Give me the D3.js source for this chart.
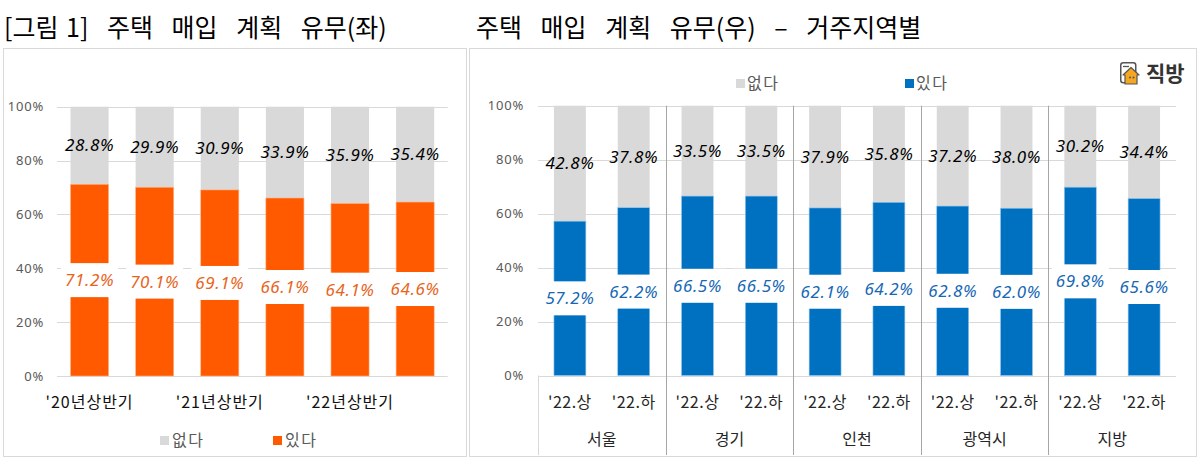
<!DOCTYPE html>
<html>
<head>
<meta charset="utf-8">
<script src="https://cdn.jsdelivr.net/npm/d3@7"></script>
<style>
  body { margin: 0; background: #fff; }
  text { font-family: "Noto Sans CJK KR", "Noto Sans", sans-serif; }
</style>
</head>
<body>
<div id="chart"></div>
<script>
// 데이터
const leftPeriods = ["'20년상반기", "'20년하반기", "'21년상반기", "'21년하반기", "'22년상반기", "'22년하반기"];
const leftNo = [28.8, 29.9, 30.9, 33.9, 35.9, 35.4];
const leftYes = [71.2, 70.1, 69.1, 66.1, 64.1, 64.6];

const regions = ["서울", "경기", "인천", "광역시", "지방"];
const halves = ["'22.상", "'22.하"];
const rightNo = [42.8, 37.8, 33.5, 33.5, 37.9, 35.8, 37.2, 38.0, 30.2, 34.4];
const rightYes = [57.2, 62.2, 66.5, 66.5, 62.1, 64.2, 62.8, 62.0, 69.8, 65.6];

const yTicks = [0, 20, 40, 60, 80, 100];
const legendNames = ["없다", "있다"];

const GRAY = "#d9d9d9", ORANGE = "#ff5a00", ORANGE_TXT = "#e8641b", BLUE = "#0070c0", BLUE_TXT = "#1668b4";

const svg = d3.select("#chart").append("svg")
  .attr("width", 1201).attr("height", 461);

// 제목
const t1 = svg.append("text").attr("x", 4).attr("y", 37)
  .style("font-size", "25px").style("word-spacing", "13px");
t1.append("tspan").style("word-spacing", "2px").text("[그림 1]");
t1.append("tspan").text(" 주택 매입 계획 유무(좌)");
svg.append("text").attr("x", 476).attr("y", 37)
  .style("font-size", "25px").style("word-spacing", "13px")
  .text("주택 매입 계획 유무(우) – 거주지역별");

// 패널 테두리
svg.append("rect").attr("x", 3.5).attr("y", 48.5).attr("width", 463).attr("height", 408)
  .attr("fill", "none").attr("stroke", "#d9d9d9");
svg.append("rect").attr("x", 469.5).attr("y", 48.5).attr("width", 727).attr("height", 408)
  .attr("fill", "none").attr("stroke", "#d9d9d9");

function drawYAxis(g, y, x0, x1, labelX) {
  g.append("g").selectAll("line").data(yTicks).join("line")
    .attr("x1", x0).attr("x2", x1)
    .attr("y1", d => Math.round(y(d)) + 0.5).attr("y2", d => Math.round(y(d)) + 0.5)
    .attr("stroke", "#d9d9d9");
  const ax = d3.axisLeft(y).tickValues(yTicks).tickFormat(d => d + "%").tickSize(0).tickPadding(0);
  const a = g.append("g").attr("transform", `translate(${labelX},0)`).call(ax);
  a.select(".domain").remove();
  a.selectAll("text").style("font-size", "13px").style("letter-spacing", "0.8px")
    .attr("fill", "#595959").style("font-family", "'Noto Sans', sans-serif");
}

function drawLabels(g, data, xs, ys, color, boxed) {
  const lg = g.append("g");
  data.forEach(d => {
    const t = lg.append("text")
      .attr("x", xs(d)).attr("y", ys(d))
      .attr("text-anchor", "middle").attr("dy", "0.35em")
      .style("font-size", "17px").style("font-style", "italic")
      .style("letter-spacing", "0.6px")
      .style("font-family", "'Noto Sans', sans-serif")
      .attr("fill", color).text(d.label);
    if (boxed) {
      const b = t.node().getBBox();
      lg.insert("rect", () => t.node())
        .attr("x", b.x - 4).attr("y", ys(d) - 17)
        .attr("width", b.width + 8).attr("height", 34).attr("fill", "#fff");
    }
  });
}

// ===== 왼쪽 차트 =====
const gl = svg.append("g");
const xl = d3.scaleBand().domain(leftPeriods).range([57, 447.7]).paddingInner(0.415).paddingOuter(0.2075);
const yl = d3.scaleLinear().domain([0, 100]).range([376, 106.7]);
drawYAxis(gl, yl, 57, 447.7, 44);

const leftRows = leftPeriods.map((p, i) => ({ p, no: leftNo[i], yes: leftYes[i] }));
gl.append("g").selectAll("rect").data(leftRows).join("rect")
  .attr("x", d => xl(d.p)).attr("width", xl.bandwidth())
  .attr("y", d => yl(100)).attr("height", d => yl(d.yes) - yl(100))
  .attr("fill", GRAY);
gl.append("g").selectAll("rect").data(leftRows).join("rect")
  .attr("x", d => xl(d.p)).attr("width", xl.bandwidth())
  .attr("y", d => yl(d.yes)).attr("height", d => yl(0) - yl(d.yes))
  .attr("fill", ORANGE).attr("stroke", "#ffb585").attr("stroke-width", 0.6);

drawLabels(gl, leftRows.map(d => ({ ...d, label: d.yes.toFixed(1) + "%" })),
  d => xl(d.p) + xl.bandwidth() / 2, d => (yl(d.yes) + yl(0)) / 2, ORANGE_TXT, true);
drawLabels(gl, leftRows.map(d => ({ ...d, label: d.no.toFixed(1) + "%" })),
  d => xl(d.p) + xl.bandwidth() / 2, d => (yl(100) + yl(d.yes)) / 2, "#000", false);

gl.append("g").selectAll("text").data(leftPeriods.filter((p, i) => i % 2 === 0)).join("text")
  .attr("x", d => xl(d) + xl.bandwidth() / 2).attr("y", 402).attr("dy", "0.35em")
  .attr("text-anchor", "middle").style("font-size", "16px").style("letter-spacing", "1px")
  .attr("fill", "#111").text(d => d);

// 왼쪽 범례
const legL = gl.append("g");
[[160, GRAY], [273, ORANGE]].forEach(([x, c], i) => {
  legL.append("rect").attr("x", x).attr("y", 436).attr("width", 9).attr("height", 9).attr("fill", c);
  legL.append("text").attr("x", x + 12).attr("y", 440.5).attr("dy", "0.35em")
    .style("font-size", "16px").style("letter-spacing", "1.5px").attr("fill", "#595959").text(legendNames[i]);
});

// ===== 오른쪽 차트 =====
const gr = svg.append("g");
const rightKeys = d3.range(rightNo.length);
const xr = d3.scaleBand().domain(rightKeys).range([538, 1176]).paddingInner(0.5).paddingOuter(0.25);
const yr = d3.scaleLinear().domain([0, 100]).range([375.5, 105.7]);
drawYAxis(gr, yr, 538, 1176, 524);

const rightRows = rightKeys.map(i => ({ i, no: rightNo[i], yes: rightYes[i] }));
gr.append("g").selectAll("rect").data(rightRows).join("rect")
  .attr("x", d => xr(d.i)).attr("width", xr.bandwidth())
  .attr("y", yr(100)).attr("height", d => yr(d.yes) - yr(100))
  .attr("fill", GRAY);
gr.append("g").selectAll("rect").data(rightRows).join("rect")
  .attr("x", d => xr(d.i)).attr("width", xr.bandwidth())
  .attr("y", d => yr(d.yes)).attr("height", d => yr(0) - yr(d.yes))
  .attr("fill", BLUE).attr("stroke", "#8cc4ee").attr("stroke-width", 0.6);

drawLabels(gr, rightRows.map(d => ({ ...d, label: d.yes.toFixed(1) + "%" })),
  d => xr(d.i) + xr.bandwidth() / 2, d => (yr(d.yes) + yr(0)) / 2, BLUE_TXT, true);
drawLabels(gr, rightRows.map(d => ({ ...d, label: d.no.toFixed(1) + "%" })),
  d => xr(d.i) + xr.bandwidth() / 2, d => (yr(100) + yr(d.yes)) / 2, "#000", false);

// 지역 구분선
const step = xr.step();
const x0r = xr.range()[0];
gr.append("line").attr("x1", x0r + 0.5).attr("x2", x0r + 0.5)
  .attr("y1", yr(0)).attr("y2", 455).attr("stroke", "#d9d9d9");
gr.append("g").selectAll("line").data(regions.slice(1)).join("line")
  .attr("x1", (d, i) => Math.round(x0r + step * 2 * (i + 1)) + 0.5)
  .attr("x2", (d, i) => Math.round(x0r + step * 2 * (i + 1)) + 0.5)
  .attr("y1", yr(100)).attr("y2", 455).attr("stroke", "#a6a6a6");

gr.append("g").selectAll("text").data(rightKeys).join("text")
  .attr("x", d => xr(d) + xr.bandwidth() / 2).attr("y", 402).attr("dy", "0.35em")
  .attr("text-anchor", "middle").style("font-size", "16px").style("letter-spacing", "0.5px")
  .attr("fill", "#262626").text(d => halves[d % 2]);
gr.append("g").selectAll("text").data(regions).join("text")
  .attr("x", (d, i) => x0r + step * (2 * i + 1)).attr("y", 439).attr("dy", "0.35em")
  .attr("text-anchor", "middle").style("font-size", "16px")
  .attr("fill", "#262626").text(d => d);

// 오른쪽 범례
const legR = gr.append("g");
[[736, GRAY], [905, BLUE]].forEach(([x, c], i) => {
  legR.append("rect").attr("x", x).attr("y", 79).attr("width", 9).attr("height", 9).attr("fill", c);
  legR.append("text").attr("x", x + 11).attr("y", 83.5).attr("dy", "0.35em")
    .style("font-size", "16px").style("letter-spacing", "1.5px").attr("fill", "#595959").text(legendNames[i]);
});

// 로고
const logo = svg.append("g").attr("transform", "translate(1120,62)");
logo.append("rect").attr("x", 0.75).attr("y", 0.75).attr("width", 15).attr("height", 20).attr("rx", 2.5)
  .attr("fill", "#fff").attr("stroke", "#555").attr("stroke-width", 1.5);
logo.append("line").attr("x1", 3).attr("x2", 9).attr("y1", 4.5).attr("y2", 4.5).attr("stroke", "#555").attr("stroke-width", 1.3);
logo.append("path").attr("d", "M3,13 L11,5.5 L19,13 L17,13 L17,22 L5,22 L5,13 Z")
  .attr("fill", "#f5a623").attr("stroke", "#555").attr("stroke-width", 1.2).attr("stroke-linejoin", "round");
logo.append("circle").attr("cx", 10).attr("cy", 15.5).attr("r", 1).attr("fill", "#555");
logo.append("circle").attr("cx", 13.5).attr("cy", 15.5).attr("r", 1).attr("fill", "#555");
logo.append("text").attr("x", 26).attr("y", 12).attr("dy", "0.35em")
  .style("font-size", "21px").style("font-weight", "700").attr("fill", "#333").text("직방");
</script>
</body>
</html>
